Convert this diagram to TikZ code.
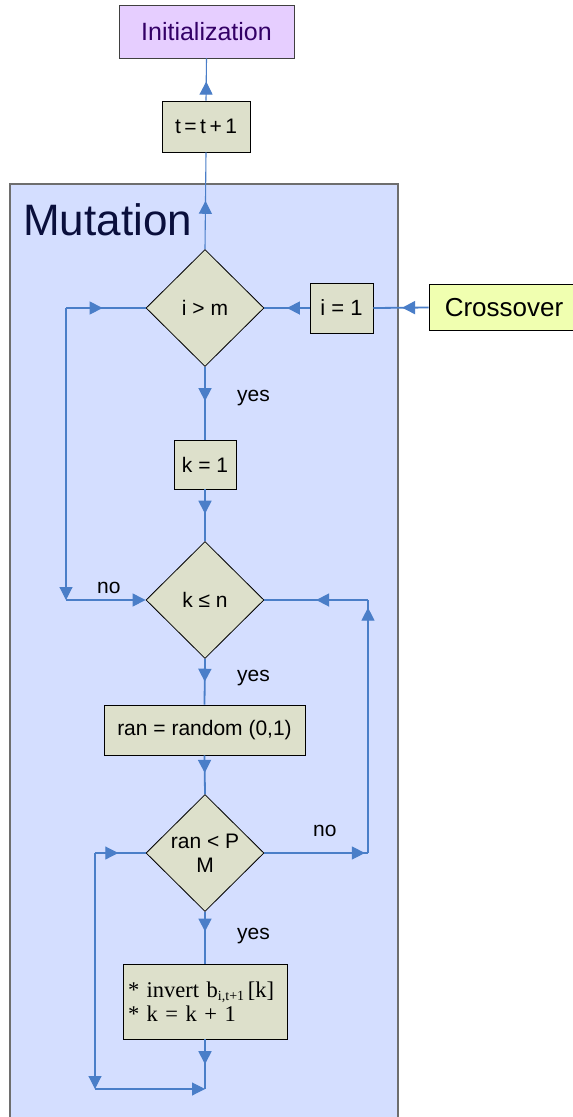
\documentclass[tikz,border=0pt]{standalone}
\usepackage{fontspec}
\setmainfont{Liberation Sans}
\newfontfamily\serifface{Liberation Serif}
\usetikzlibrary{shapes.geometric,arrows.meta,decorations.markings}

\definecolor{mutfill}{RGB}{212,222,255}
\definecolor{mutborder}{RGB}{110,110,110}
\definecolor{mutink}{RGB}{10,15,60}
\definecolor{initfill}{RGB}{230,206,255}
\definecolor{initink}{RGB}{51,0,102}
\definecolor{crossfill}{RGB}{240,255,176}
\definecolor{nodefill}{RGB}{221,224,203}
\definecolor{lineblue}{RGB}{74,126,200}

\newcommand\lowsub[1]{\raisebox{-0.35ex}{\fontsize{14}{14}\selectfont #1}}

\tikzset{
  box/.style={draw=black, line width=0.9pt, fill=nodefill, inner sep=0pt,
    font=\fontsize{21}{25}\selectfont},
  decision/.style={diamond, draw=black, line width=0.8pt, fill=nodefill,
    minimum width=118pt, minimum height=117pt, inner sep=0pt, align=center,
    font=\fontsize{21}{24}\selectfont},
  conn/.style={draw=lineblue, color=lineblue, line width=1.8pt},
  connthin/.style={conn, line width=1.1pt},
  tipat/.style={postaction={decorate},
    decoration={markings, mark=at position #1 with {\arrow{Triangle[length=13pt,width=13pt]}}}},
  endtip/.style={-{Triangle[length=13pt,width=13pt]}},
  lbl/.style={font=\fontsize{21}{25}\selectfont, text=black, inner sep=0pt}
}

\begin{document}
\begin{tikzpicture}[x=1pt,y=-1pt]
\useasboundingbox (0,0) rectangle (573,1117);
\fill[white] (0,0) rectangle (573,1117);

% mutation panel
\draw[fill=mutfill, draw=mutborder, line width=1.5pt] (10,184) rectangle (398,1135);
\node[anchor=base west, inner sep=0pt, text=mutink, font=\fontsize{44}{48}\selectfont] (mutlabel) at (23,235) {Mutation};

% outer blocks
\node[draw=black!75, line width=0.9pt, fill=initfill, text=initink, minimum width=175pt, minimum height=53pt,
  inner sep=0pt, font=\fontsize{25}{28}\selectfont] (init) at (206.5,31.5) {Initialization};
\node[box, minimum width=88pt, minimum height=51pt] (tt) at (206,126.5) {t\,=\,t\,+\,1};
\node[draw=black, line width=0.9pt, fill=crossfill, minimum width=150pt, minimum height=46pt,
  inner sep=0pt, font=\fontsize{26}{28}\selectfont] (cross) at (504,307.5) {Crossover};

% mutation steps
\node[decision] (ima) at (205,308) {i > m};
\node[box, minimum width=63pt, minimum height=50pt, font=\fontsize{22}{25}\selectfont] (i1) at (341.5,308) {i = 1};
\node[box, minimum width=62pt, minimum height=49pt] (k1) at (205,464.5) {k = 1};
\node[decision] (kn) at (205,600) {k ≤ n};
\node[box, minimum width=201pt, minimum height=50pt] (ran) at (204.5,730) {ran = random (0,1)};
\node[decision] (rp) at (205,853) {ran < P\\M};
\node[box, minimum width=164pt, minimum height=75pt, text width=154pt, inner xsep=5pt, align=left,
  font=\serifface\fontsize{22.5}{24}\selectfont] (inv) at (205,1001.5)
  {* invert b\lowsub{i,t+1}\,[k]\\{*} k = k + 1};

% routing points
\coordinate (L1) at (66,308);
\coordinate (L2) at (66,600);
\coordinate (R1) at (368,600);
\coordinate (R2) at (368,853);
\coordinate (B1) at (95,853);
\coordinate (B2) at (95,1089);
\coordinate (B3) at (205,1089);

% connectors
\draw[connthin, tipat=0.45] (tt.north) -- (init.south);
\draw[connthin, tipat=0.5] (ima.north) -- (tt.south);
\draw[conn, tipat=0.48] (cross.west) -- (i1.east);
\draw[conn, tipat=0.5] (i1.west) -- (ima.east);
\draw[conn, tipat=0.47] (ima.south) -- (k1.north);
\draw[conn, tipat=0.47] (k1.south) -- (kn.north);
\draw[conn, tipat=0.5] (kn.south) -- (ran.north);
\draw[conn, tipat=0.45] (ran.south) -- (rp.north);
\draw[conn, tipat=0.38] (rp.south) -- (inv.north);
\draw[conn, tipat=0.5] (inv.south) -- (B3);

\draw[connthin, tipat=0.46] (L1) -- (ima.west);
\draw[connthin, endtip] (L1) -- (L2);
\draw[connthin, endtip] (L2) -- (kn.west);

\draw[conn, tipat=0.5] (R1) -- (kn.east);
\draw[connthin, tipat=0.97] (R2) -- (R1);
\draw[connthin, tipat=0.97] (rp.east) -- (R2);

\draw[connthin, tipat=0.46] (B1) -- (rp.west);
\draw[connthin, endtip] (B1) -- (B2);
\draw[connthin, endtip] (B2) -- (B3);

% branch labels
\node[lbl, anchor=west] (yes1) at (237,398) {yes};
\node[lbl, anchor=west] (yes2) at (237,678) {yes};
\node[lbl, anchor=west] (yes3) at (237,936) {yes};
\node[lbl, anchor=west] (no1) at (97,588) {no};
\node[lbl, anchor=west] (no2) at (313,831) {no};
\end{tikzpicture}
\end{document}
